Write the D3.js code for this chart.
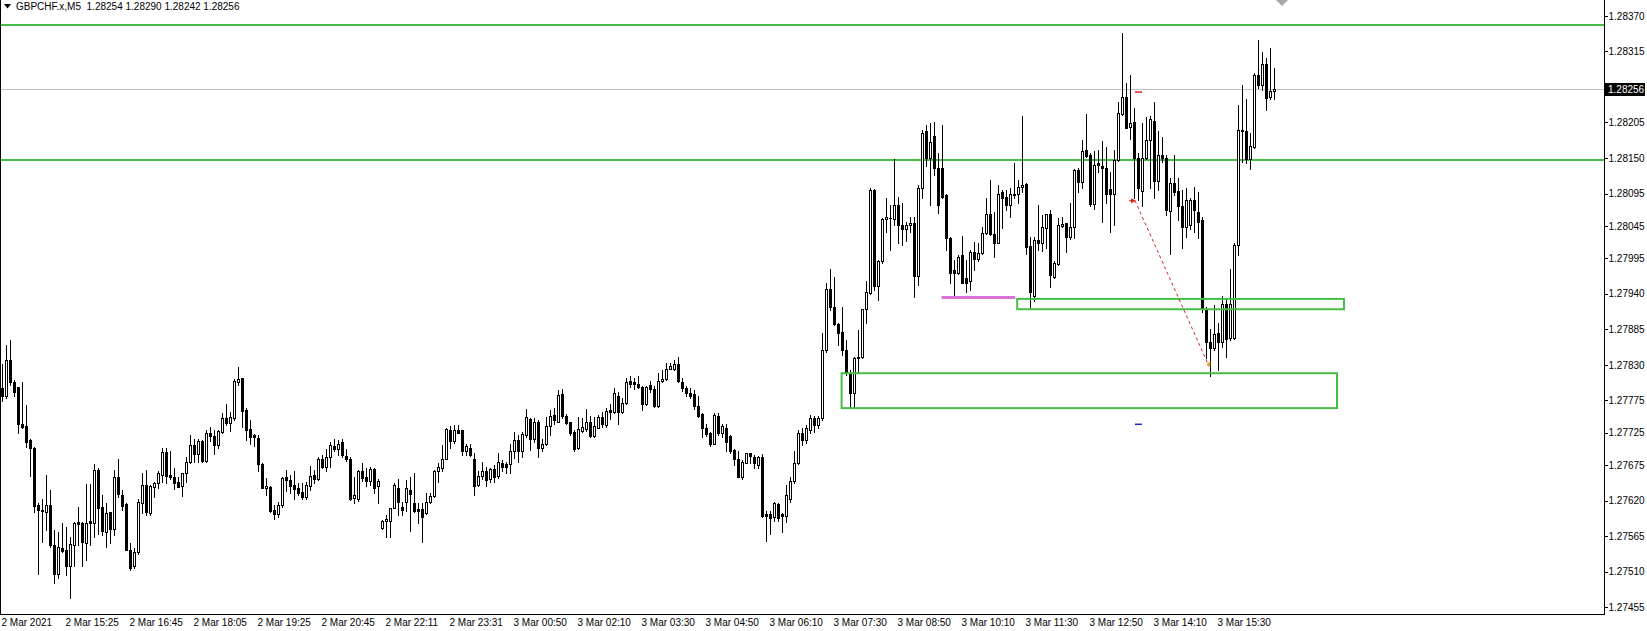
<!DOCTYPE html>
<html><head><meta charset="utf-8">
<script src="https://cdn.jsdelivr.net/npm/d3@7"></script>
<style>
html,body{margin:0;padding:0;background:#fff;overflow:hidden}
svg{display:block}
text{font-family:"Liberation Sans",Arial,sans-serif;fill:#000}
</style>
</head><body>
<svg id="chart" width="1647" height="631"></svg>
<script>
// ---------------- DATA ----------------
const headerText = "GBPCHF.x,M5  1.28254 1.28290 1.28242 1.28256";
// M5 candles [open, high, low, close], oldest first
const candles = [
[1.27794,1.27832,1.27774,1.27781],[1.27781,1.27861,1.27778,1.27837],[1.27837,1.27869,1.27799,1.27804],[1.27804,1.27806,1.27781,1.27788],
[1.27795,1.27796,1.27724,1.27738],[1.27738,1.27804,1.27732,1.27734],[1.27735,1.27768,1.27703,1.27711],[1.27714,1.27716,1.27658,1.27702],
[1.27702,1.27703,1.27603,1.27612],[1.27613,1.27616,1.27507,1.27605],[1.27604,1.27623,1.27556,1.27605],[1.27603,1.27659,1.27574,1.27613],
[1.27613,1.27636,1.27548,1.27551],[1.27552,1.27574,1.27492,1.27507],[1.27507,1.27572,1.27500,1.27548],[1.27546,1.27585,1.27541,1.27542],
[1.27543,1.27579,1.27505,1.27518],[1.27518,1.27564,1.27469,1.27553],[1.27552,1.27587,1.27518,1.27586],[1.27587,1.27610,1.27551,1.27584],
[1.27585,1.27587,1.27518,1.27556],[1.27554,1.27645,1.27528,1.27586],[1.27588,1.27645,1.27551,1.27586],[1.27586,1.27677,1.27564,1.27667],
[1.27668,1.27670,1.27569,1.27609],[1.27610,1.27628,1.27566,1.27573],[1.27572,1.27616,1.27548,1.27601],[1.27602,1.27603,1.27554,1.27576],
[1.27576,1.27667,1.27566,1.27656],[1.27657,1.27685,1.27626,1.27630],[1.27628,1.27636,1.27605,1.27612],[1.27614,1.27616,1.27543,1.27543],
[1.27543,1.27554,1.27512,1.27515],[1.27518,1.27546,1.27515,1.27541],[1.27540,1.27623,1.27538,1.27617],[1.27616,1.27662,1.27600,1.27644],
[1.27644,1.27668,1.27597,1.27603],[1.27601,1.27644,1.27597,1.27642],[1.27641,1.27649,1.27626,1.27647],[1.27647,1.27665,1.27639,1.27662],
[1.27660,1.27702,1.27649,1.27695],[1.27695,1.27702,1.27647,1.27658],[1.27659,1.27696,1.27654,1.27656],[1.27656,1.27670,1.27638,1.27647],
[1.27649,1.27657,1.27641,1.27641],[1.27642,1.27662,1.27627,1.27662],[1.27662,1.27688,1.27649,1.27679],[1.27679,1.27721,1.27678,1.27706],
[1.27706,1.27716,1.27680,1.27692],[1.27692,1.27716,1.27680,1.27712],[1.27712,1.27714,1.27679,1.27681],[1.27681,1.27729,1.27680,1.27724],
[1.27724,1.27734,1.27712,1.27720],[1.27720,1.27729,1.27692,1.27706],[1.27706,1.27729,1.27702,1.27728],[1.27726,1.27755,1.27724,1.27747],
[1.27747,1.27769,1.27737,1.27740],[1.27740,1.27757,1.27728,1.27749],[1.27748,1.27808,1.27745,1.27805],[1.27804,1.27827,1.27799,1.27808],
[1.27809,1.27810,1.27734,1.27758],[1.27760,1.27763,1.27714,1.27729],[1.27731,1.27745,1.27708,1.27719],[1.27721,1.27723,1.27705,1.27718],
[1.27717,1.27721,1.27665,1.27676],[1.27677,1.27678,1.27639,1.27639],[1.27639,1.27655,1.27628,1.27642],[1.27641,1.27642,1.27603,1.27604],
[1.27605,1.27613,1.27591,1.27599],[1.27599,1.27618,1.27594,1.27613],[1.27613,1.27657,1.27610,1.27655],[1.27656,1.27667,1.27635,1.27652],
[1.27652,1.27659,1.27632,1.27642],[1.27644,1.27665,1.27623,1.27638],[1.27639,1.27647,1.27628,1.27631],[1.27634,1.27647,1.27623,1.27626],
[1.27626,1.27649,1.27622,1.27644],[1.27643,1.27673,1.27636,1.27658],[1.27659,1.27667,1.27647,1.27653],[1.27653,1.27688,1.27652,1.27685],
[1.27684,1.27690,1.27670,1.27672],[1.27672,1.27699,1.27665,1.27688],[1.27687,1.27710,1.27672,1.27706],[1.27705,1.27716,1.27696,1.27699],
[1.27699,1.27714,1.27690,1.27708],[1.27710,1.27716,1.27688,1.27690],[1.27689,1.27699,1.27681,1.27684],[1.27685,1.27688,1.27621,1.27623],
[1.27624,1.27657,1.27616,1.27628],[1.27622,1.27667,1.27620,1.27665],[1.27665,1.27678,1.27650,1.27655],[1.27657,1.27670,1.27643,1.27650],
[1.27650,1.27672,1.27644,1.27669],[1.27669,1.27670,1.27631,1.27640],[1.27643,1.27654,1.27616,1.27650],[1.27577,1.27590,1.27576,1.27589],
[1.27589,1.27597,1.27564,1.27592],[1.27589,1.27609,1.27564,1.27609],[1.27609,1.27647,1.27608,1.27644],[1.27639,1.27654,1.27597,1.27617],
[1.27610,1.27618,1.27597,1.27606],[1.27617,1.27652,1.27604,1.27639],[1.27636,1.27657,1.27573,1.27630],[1.27616,1.27663,1.27603,1.27604],
[1.27607,1.27616,1.27585,1.27604],[1.27607,1.27616,1.27556,1.27595],[1.27600,1.27631,1.27599,1.27618],[1.27617,1.27631,1.27616,1.27627],
[1.27627,1.27667,1.27626,1.27666],[1.27665,1.27678,1.27649,1.27672],[1.27671,1.27706,1.27665,1.27685],[1.27685,1.27732,1.27684,1.27731],
[1.27729,1.27735,1.27702,1.27712],[1.27712,1.27737,1.27709,1.27729],[1.27729,1.27737,1.27724,1.27725],[1.27729,1.27729,1.27690,1.27696],
[1.27696,1.27708,1.27691,1.27705],[1.27702,1.27708,1.27689,1.27690],[1.27685,1.27693,1.27628,1.27643],[1.27644,1.27665,1.27643,1.27658],
[1.27658,1.27680,1.27654,1.27665],[1.27665,1.27672,1.27643,1.27652],[1.27653,1.27671,1.27649,1.27669],[1.27669,1.27675,1.27648,1.27657],
[1.27658,1.27693,1.27655,1.27679],[1.27678,1.27683,1.27665,1.27672],[1.27676,1.27680,1.27662,1.27672],[1.27676,1.27707,1.27663,1.27697],
[1.27696,1.27726,1.27686,1.27714],[1.27714,1.27722,1.27679,1.27697],[1.27697,1.27726,1.27688,1.27723],[1.27721,1.27761,1.27719,1.27749],
[1.27746,1.27748,1.27698,1.27716],[1.27716,1.27747,1.27711,1.27741],[1.27742,1.27745,1.27688,1.27702],[1.27701,1.27716,1.27696,1.27707],
[1.27707,1.27750,1.27706,1.27735],[1.27735,1.27760,1.27721,1.27751],[1.27752,1.27763,1.27739,1.27744],[1.27742,1.27791,1.27741,1.27783],
[1.27785,1.27792,1.27747,1.27751],[1.27751,1.27754,1.27739,1.27740],[1.27741,1.27742,1.27721,1.27724],[1.27726,1.27729,1.27697,1.27700],
[1.27701,1.27750,1.27700,1.27731],[1.27728,1.27747,1.27726,1.27734],[1.27731,1.27762,1.27728,1.27742],[1.27741,1.27751,1.27719,1.27720],
[1.27720,1.27750,1.27718,1.27735],[1.27733,1.27752,1.27732,1.27749],[1.27750,1.27757,1.27734,1.27738],[1.27737,1.27763,1.27734,1.27759],
[1.27760,1.27770,1.27746,1.27757],[1.27757,1.27794,1.27755,1.27786],[1.27782,1.27788,1.27739,1.27757],[1.27757,1.27778,1.27755,1.27771],
[1.27771,1.27809,1.27769,1.27803],[1.27805,1.27812,1.27795,1.27801],[1.27803,1.27809,1.27792,1.27800],[1.27800,1.27812,1.27794,1.27796],
[1.27796,1.27797,1.27760,1.27769],[1.27769,1.27797,1.27768,1.27796],[1.27799,1.27805,1.27788,1.27792],[1.27792,1.27797,1.27764,1.27766],
[1.27766,1.27817,1.27764,1.27805],[1.27805,1.27822,1.27804,1.27808],[1.27808,1.27833,1.27806,1.27824],[1.27824,1.27833,1.27823,1.27828],
[1.27824,1.27837,1.27822,1.27831],[1.27831,1.27842,1.27804,1.27805],[1.27803,1.27809,1.27790,1.27794],[1.27794,1.27797,1.27781,1.27787],
[1.27787,1.27794,1.27778,1.27781],[1.27785,1.27791,1.27761,1.27766],[1.27766,1.27781,1.27750,1.27751],[1.27754,1.27756,1.27718,1.27732],
[1.27732,1.27738,1.27720,1.27723],[1.27724,1.27726,1.27704,1.27707],[1.27708,1.27756,1.27707,1.27752],[1.27751,1.27756,1.27721,1.27724],
[1.27724,1.27738,1.27719,1.27735],[1.27733,1.27738,1.27696,1.27711],[1.27720,1.27721,1.27694,1.27697],[1.27698,1.27699,1.27675,1.27684],
[1.27684,1.27696,1.27656,1.27657],[1.27656,1.27683,1.27654,1.27679],[1.27678,1.27694,1.27678,1.27693],[1.27693,1.27694,1.27678,1.27689],
[1.27688,1.27690,1.27670,1.27678],[1.27675,1.27689,1.27670,1.27687],[1.27688,1.27692,1.27595,1.27596],[1.27599,1.27604,1.27558,1.27596],
[1.27599,1.27604,1.27569,1.27593],[1.27595,1.27618,1.27589,1.27616],[1.27614,1.27616,1.27589,1.27593],[1.27599,1.27601,1.27572,1.27596],
[1.27596,1.27644,1.27587,1.27628],[1.27623,1.27657,1.27618,1.27650],[1.27650,1.27696,1.27647,1.27678],[1.27678,1.27729,1.27676,1.27724],
[1.27724,1.27732,1.27706,1.27714],[1.27714,1.27737,1.27709,1.27732],[1.27729,1.27752,1.27724,1.27748],[1.27748,1.27751,1.27726,1.27737],
[1.27737,1.27751,1.27732,1.27748],[1.27747,1.27879,1.27745,1.27853],[1.27853,1.27957,1.27850,1.27947],[1.27947,1.27979,1.27915,1.27920],
[1.27920,1.27966,1.27892,1.27893],[1.27893,1.27894,1.27861,1.27880],[1.27881,1.27920,1.27845,1.27853],[1.27853,1.27868,1.27814,1.27817],
[1.27817,1.27822,1.27765,1.27786],[1.27786,1.27842,1.27763,1.27840],[1.27840,1.27884,1.27817,1.27842],[1.27842,1.27917,1.27840,1.27916],
[1.27916,1.27959,1.27894,1.27943],[1.27941,1.28103,1.27940,1.28101],[1.28101,1.28102,1.27946,1.27952],[1.27952,1.27992,1.27930,1.27990],
[1.27990,1.28057,1.27987,1.28055],[1.28055,1.28088,1.28036,1.28058],[1.28057,1.28077,1.28008,1.28057],[1.28055,1.28149,1.28046,1.28078],
[1.28078,1.28090,1.28019,1.28046],[1.28046,1.28080,1.28015,1.28040],[1.28040,1.28051,1.28021,1.28046],[1.28046,1.28059,1.28036,1.28050],
[1.28049,1.28058,1.27935,1.27968],[1.27968,1.28108,1.27953,1.28104],[1.28104,1.28193,1.28088,1.28189],[1.28191,1.28201,1.28137,1.28150],
[1.28150,1.28204,1.28077,1.28175],[1.28184,1.28206,1.28124,1.28134],[1.28134,1.28157,1.28065,1.28077],[1.28134,1.28201,1.28088,1.28089],
[1.28093,1.28095,1.28008,1.28026],[1.28026,1.28028,1.27956,1.27972],[1.27977,1.27992,1.27938,1.27972],[1.27972,1.28000,1.27970,1.27997],
[1.28000,1.28029,1.27956,1.27957],[1.27964,1.27992,1.27943,1.27956],[1.27959,1.28008,1.27946,1.28005],[1.28005,1.28020,1.27977,1.27994],
[1.27994,1.28018,1.27990,1.28003],[1.28003,1.28043,1.28001,1.28034],[1.28034,1.28088,1.28032,1.28063],[1.28064,1.28116,1.28031,1.28033],
[1.28033,1.28067,1.27997,1.28019],[1.28019,1.28108,1.28018,1.28095],[1.28098,1.28100,1.28041,1.28088],[1.28089,1.28100,1.28070,1.28077],
[1.28078,1.28104,1.28059,1.28094],[1.28093,1.28142,1.28088,1.28095],[1.28094,1.28116,1.28080,1.28105],[1.28105,1.28215,1.28098,1.28108],
[1.28109,1.28111,1.28001,1.28013],[1.28014,1.28028,1.27917,1.27942],[1.27937,1.28028,1.27929,1.28023],[1.28023,1.28077,1.28008,1.28018],
[1.28018,1.28062,1.28006,1.28044],[1.28042,1.28064,1.28010,1.28063],[1.28063,1.28070,1.27951,1.27969],[1.27966,1.27990,1.27965,1.27987],
[1.27986,1.28057,1.27984,1.28046],[1.28045,1.28059,1.28044,1.28048],[1.28049,1.28050,1.28005,1.28028],[1.28028,1.28080,1.28025,1.28044],
[1.28044,1.28133,1.28026,1.28131],[1.28131,1.28134,1.28098,1.28113],[1.28113,1.28178,1.28104,1.28161],[1.28162,1.28218,1.28152,1.28153],
[1.28155,1.28157,1.28075,1.28079],[1.28079,1.28161,1.28071,1.28139],[1.28142,1.28162,1.28129,1.28139],[1.28137,1.28176,1.28051,1.28134],
[1.28135,1.28167,1.28080,1.28094],[1.28102,1.28129,1.28035,1.28095],[1.28095,1.28162,1.28046,1.28147],[1.28147,1.28236,1.28145,1.28219],
[1.28218,1.28343,1.28216,1.28245],[1.28245,1.28266,1.28196,1.28197],[1.28198,1.28278,1.28180,1.28204],[1.28205,1.28227,1.28088,1.28150],
[1.28150,1.28157,1.28085,1.28103],[1.28099,1.28204,1.28075,1.28150],[1.28150,1.28214,1.28148,1.28178],[1.28178,1.28215,1.28103,1.28210],
[1.28208,1.28236,1.28088,1.28115],[1.28115,1.28191,1.28100,1.28155],[1.28155,1.28183,1.28144,1.28150],[1.28150,1.28155,1.28062,1.28070],
[1.28068,1.28119,1.28001,1.28112],[1.28111,1.28155,1.28092,1.28098],[1.28099,1.28119,1.28054,1.28075],[1.28075,1.28100,1.28011,1.28043],
[1.28044,1.28104,1.28028,1.28085],[1.28046,1.28088,1.28040,1.28085],[1.28085,1.28105,1.28036,1.28070],[1.28067,1.28098,1.28026,1.28051],
[1.28054,1.28058,1.27912,1.27917],[1.27917,1.27920,1.27840,1.27866],[1.27866,1.27885,1.27813,1.27856],[1.27856,1.27922,1.27853,1.27877],
[1.27879,1.27894,1.27822,1.27866],[1.27866,1.27937,1.27858,1.27924],[1.27924,1.27933,1.27842,1.27870],[1.27871,1.27978,1.27868,1.27924],
[1.27871,1.28018,1.27870,1.28015],[1.28015,1.28232,1.28000,1.28193],[1.28192,1.28263,1.28144,1.28193],[1.28191,1.28241,1.28142,1.28148],
[1.28148,1.28188,1.28133,1.28169],[1.28167,1.28281,1.28166,1.28279],[1.28279,1.28332,1.28258,1.28263],[1.28263,1.28314,1.28255,1.28295],
[1.28295,1.28304,1.28224,1.28243],[1.28245,1.28320,1.28242,1.28254],[1.28254,1.28290,1.28242,1.28256]
];
const timeLabels = ["2 Mar 2021","2 Mar 15:25","2 Mar 16:45","2 Mar 18:05","2 Mar 19:25","2 Mar 20:45","2 Mar 22:11",
  "2 Mar 23:31","3 Mar 00:50","3 Mar 02:10","3 Mar 03:30","3 Mar 04:50","3 Mar 06:10","3 Mar 07:30","3 Mar 08:50",
  "3 Mar 10:10","3 Mar 11:30","3 Mar 12:50","3 Mar 14:10","3 Mar 15:30"];
const barsPerTimeLabel = 16;
const priceTickLabels = ["1.28370","1.28315","1.28205","1.28150","1.28095","1.28045","1.27995","1.27940","1.27885",
  "1.27830","1.27775","1.27725","1.27675","1.27620","1.27565","1.27510","1.27455"];
const bidPrice = 1.28256;
const levelLines = [1.28356, 1.28147];
// rectangles: [startBar, endBar, topPrice, bottomPrice]
const zoneRects = [[209.9, 333.75, 1.27817, 1.27763], [253.8, 335.5, 1.27932, 1.27916]];
// magenta trend segment: [startBar, endBar, price]
const magentaSegment = [234.9, 253.3, 1.27934];
// closed trade: open [bar, price] -> close [bar, price], stop/target levels
const tradeOpen = [283.25, 1.28084];
const tradeClose = [301.6, 1.27830];
const tradeStop = 1.28252;
const tradeTarget = 1.27738;
const shiftMarkerBar = 320;

// ---------------- LAYOUT ----------------
const W = 1647, H = 631;
const plotRight = 1604, plotBottom = 614;
const svg = d3.select("#chart");
const x = d3.scaleLinear().domain([0, 400]).range([2, 1602]);
const y = d3.scaleLinear().domain([1.27455, 1.28370]).range([607.2, 15.8]);

svg.append("rect").attr("width", W).attr("height", H).attr("fill", "#fff");
svg.append("defs").append("clipPath").attr("id", "plotClip")
  .append("rect").attr("x", 0).attr("y", 0).attr("width", plotRight).attr("height", plotBottom);

const plot = svg.append("g").attr("clip-path", "url(#plotClip)");

// bid line
plot.append("line").attr("x1", 0).attr("x2", plotRight)
  .attr("y1", Math.round(y(bidPrice)) + 0.5).attr("y2", Math.round(y(bidPrice)) + 0.5)
  .attr("stroke", "#c0c0c0").attr("stroke-width", 1);

// horizontal level lines
plot.selectAll("line.level").data(levelLines).join("line").attr("class", "level")
  .attr("x1", 0).attr("x2", plotRight)
  .attr("y1", d => Math.round(y(d))).attr("y2", d => Math.round(y(d)))
  .attr("stroke", "#46be46").attr("stroke-width", 2);

// candles
const cg = plot.append("g").attr("shape-rendering", "crispEdges");
const cdat = candles.map((d, i) => {
  const [o, h, l, c] = d;
  const cx = Math.round(x(i));
  const yo = Math.round(y(o)), yc = Math.round(y(c));
  return {cx, yh: Math.round(y(h)), yl: Math.round(y(l)), top: Math.min(yo, yc), bot: Math.max(yo, yc), bull: c > o};
});
cg.selectAll("rect.wick").data(cdat).join("rect").attr("class", "wick")
  .attr("x", d => d.cx).attr("y", d => d.yh).attr("width", 1)
  .attr("height", d => Math.max(1, d.yl - d.yh + 1)).attr("fill", "#000");
cg.selectAll("rect.body").data(cdat).join("rect").attr("class", "body")
  .attr("x", d => d.cx - 1).attr("y", d => d.top).attr("width", 3)
  .attr("height", d => d.bot - d.top + 1).attr("fill", "#000");
cg.selectAll("rect.hollow").data(cdat.filter(d => d.bull && d.bot - d.top >= 2)).join("rect").attr("class", "hollow")
  .attr("x", d => d.cx).attr("y", d => d.top + 1).attr("width", 1)
  .attr("height", d => d.bot - d.top - 1).attr("fill", "#fff");

// rectangles
plot.selectAll("rect.zone").data(zoneRects).join("rect").attr("class", "zone")
  .attr("x", d => x(d[0])).attr("y", d => y(d[2]))
  .attr("width", d => x(d[1]) - x(d[0])).attr("height", d => y(d[3]) - y(d[2]))
  .attr("fill", "none").attr("stroke", "#46be46").attr("stroke-width", 2);

// magenta segment
plot.append("line")
  .attr("x1", x(magentaSegment[0])).attr("x2", x(magentaSegment[1]))
  .attr("y1", y(magentaSegment[2])).attr("y2", y(magentaSegment[2]))
  .attr("stroke", "#da70d6").attr("stroke-width", 3);

// trade line & markers
const ox = x(tradeOpen[0]), oy = y(tradeOpen[1]);
const ex = x(tradeClose[0]), ey = y(tradeClose[1]);
plot.append("line").attr("x1", ox).attr("y1", oy).attr("x2", ex).attr("y2", ey)
  .attr("stroke", "#d02020").attr("stroke-width", 1).attr("stroke-dasharray", "3,3");
plot.append("path")
  .attr("d", `M${ox-4},${oy-2.5}L${ox+1},${oy}L${ox-4},${oy+2.5}Z M${ox-4},${oy-0.5}h-2v1h2Z`)
  .attr("fill", "#e02020");
plot.append("path")
  .attr("d", `M${ex+2},${ey-4}L${ex+2},${ey+3}L${ex-2},${ey}Z`)
  .attr("fill", "#e0a030");
plot.append("line").attr("x1", x(tradeOpen[0])).attr("x2", x(tradeOpen[0]) + 7)
  .attr("y1", y(tradeStop)).attr("y2", y(tradeStop)).attr("stroke", "#e02020").attr("stroke-width", 1.5);
plot.append("line").attr("x1", x(tradeOpen[0])).attr("x2", x(tradeOpen[0]) + 7)
  .attr("y1", y(tradeTarget)).attr("y2", y(tradeTarget)).attr("stroke", "#2020e0").attr("stroke-width", 1.5);

// chart shift marker
const sx = x(shiftMarkerBar);
plot.append("path").attr("d", `M${sx-6},0L${sx+6},0L${sx},6Z`).attr("fill", "#a8a8a8");

// borders
svg.append("line").attr("x1", 0.5).attr("x2", 0.5).attr("y1", 0).attr("y2", plotBottom + 0.5)
  .attr("stroke", "#000").attr("stroke-width", 1);
svg.append("line").attr("x1", plotRight + 0.5).attr("x2", plotRight + 0.5).attr("y1", 0).attr("y2", plotBottom + 1)
  .attr("stroke", "#000").attr("stroke-width", 1);
svg.append("line").attr("x1", 0).attr("x2", plotRight + 1).attr("y1", plotBottom + 0.5).attr("y2", plotBottom + 0.5)
  .attr("stroke", "#000").attr("stroke-width", 1);

// price axis
const yAxis = d3.axisRight(y)
  .tickValues(priceTickLabels.map(Number))
  .tickFormat((d, i) => priceTickLabels[i])
  .tickSize(3).tickPadding(1);
const ya = svg.append("g").attr("transform", `translate(${plotRight + 0.5},0)`).call(yAxis);
ya.select(".domain").remove();
ya.selectAll("line").attr("stroke", "#000").attr("shape-rendering", "crispEdges");
ya.selectAll("text").attr("font-size", "10px").attr("fill", "#000")
  .attr("font-family", '"Liberation Sans", Arial, sans-serif');

// bid price label
const by = y(bidPrice);
svg.append("rect").attr("x", plotRight + 1).attr("y", Math.round(by) - 6).attr("width", 40).attr("height", 13).attr("fill", "#000");
svg.append("text").attr("x", plotRight + 4).attr("y", by).attr("dy", "0.35em")
  .attr("font-size", "10px").style("fill", "#fff").text(bidPrice.toFixed(5));

// time axis
const xAxis = d3.axisBottom(x)
  .tickValues(timeLabels.map((d, i) => i * barsPerTimeLabel))
  .tickFormat((d, i) => timeLabels[i])
  .tickSize(0).tickPadding(4);
const xa = svg.append("g").attr("transform", `translate(0,${plotBottom + 0.5})`).call(xAxis);
xa.select(".domain").remove();
xa.selectAll("text").attr("text-anchor", "start").attr("dx", -1)
  .attr("font-size", "10px").attr("fill", "#000")
  .attr("font-family", '"Liberation Sans", Arial, sans-serif');

// header
svg.append("path").attr("d", "M4,4L11,4L7.5,8.5Z").attr("fill", "#000");
svg.append("text").attr("x", 16).attr("y", 10).attr("font-size", "10px")
  .attr("xml:space", "preserve").style("white-space", "pre").text(headerText);
</script>
</body></html>
